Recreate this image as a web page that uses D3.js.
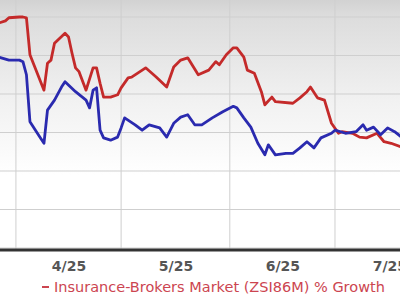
<!DOCTYPE html>
<html>
<head>
<meta charset="utf-8">
<title>Insurance-Brokers Market % Growth</title>
<script src="https://d3js.org/d3.v7.min.js"></script>
<style>
  body { margin: 0; background: #fff; }
  svg { display: block; font-family: "DejaVu Sans", Verdana, sans-serif; }
</style>
</head>
<body>
<div id="chart"></div>
<script>
// industry series (red)
const brokerDates = ["2025-03-27","2025-03-29","2025-03-30","2025-04-02","2025-04-03","2025-04-04","2025-04-05",
  "2025-04-09","2025-04-10","2025-04-11","2025-04-12","2025-04-15","2025-04-16","2025-04-17","2025-04-18","2025-04-19",
  "2025-04-21","2025-04-23","2025-04-24","2025-04-25","2025-04-26","2025-04-28","2025-04-30","2025-05-01","2025-05-03",
  "2025-05-04","2025-05-08","2025-05-11","2025-05-14","2025-05-16","2025-05-18","2025-05-20","2025-05-23","2025-05-26",
  "2025-05-28","2025-05-29","2025-05-31","2025-06-02","2025-06-03","2025-06-05","2025-06-06","2025-06-08","2025-06-10",
  "2025-06-11","2025-06-13","2025-06-14","2025-06-19","2025-06-21","2025-06-23","2025-06-24","2025-06-26","2025-06-28",
  "2025-06-30","2025-07-02","2025-07-03","2025-07-06","2025-07-08","2025-07-10","2025-07-13","2025-07-15","2025-07-17",
  "2025-07-20"];
const brokerGrowth = [9.2,9.5,9.9,10.0,10.0,9.9,5.1,
  0.5,4.0,4.4,6.6,7.9,7.4,5.3,3.4,2.9,
  0.5,3.4,3.4,1.4,-0.4,-0.4,-0.1,0.8,2.1,
  2.2,3.4,2.2,0.9,3.5,4.4,4.7,2.5,3.1,
  4.2,3.8,5.1,6.0,6.0,4.8,3.1,2.7,0.3,
  -1.4,-0.4,-1.0,-1.2,-0.5,0.3,0.9,-0.5,-0.8,
  -3.8,-5.1,-4.9,-5.1,-5.6,-5.7,-5.1,-6.2,-6.4,
  -6.9];

// stock series (blue)
const stockDates = ["2025-03-27","2025-03-30","2025-04-02","2025-04-03","2025-04-04","2025-04-05","2025-04-08",
  "2025-04-09","2025-04-10","2025-04-12","2025-04-14","2025-04-15","2025-04-18","2025-04-21","2025-04-22","2025-04-23",
  "2025-04-24","2025-04-25","2025-04-26","2025-04-28","2025-04-30","2025-05-01","2025-05-02","2025-05-05","2025-05-07",
  "2025-05-09","2025-05-12","2025-05-14","2025-05-16","2025-05-18","2025-05-20","2025-05-22","2025-05-24","2025-05-27",
  "2025-05-30","2025-06-02","2025-06-03","2025-06-05","2025-06-07","2025-06-09","2025-06-11","2025-06-12","2025-06-14",
  "2025-06-17","2025-06-19","2025-06-21","2025-06-23","2025-06-25","2025-06-27","2025-06-30","2025-07-01","2025-07-04",
  "2025-07-07","2025-07-09","2025-07-10","2025-07-12","2025-07-14","2025-07-16","2025-07-18","2025-07-20"];
const stockGrowth = [4.8,4.4,4.4,4.2,2.5,-3.6,-5.7,
  -6.4,-2.1,-0.8,0.9,1.6,0.3,-0.8,-1.8,0.5,
  0.8,-4.7,-5.7,-6.0,-5.6,-4.4,-3.1,-4.0,-4.7,
  -4.0,-4.4,-5.6,-3.8,-3.0,-2.7,-4.0,-4.0,-3.1,
  -2.3,-1.6,-1.8,-3.1,-4.3,-6.4,-7.9,-6.6,-7.9,
  -7.7,-7.7,-7.0,-6.2,-7.0,-5.7,-5.1,-4.7,-5.1,
  -4.9,-4.0,-4.7,-4.3,-5.3,-4.4,-4.9,-5.6];

const monthStarts = ["2025-04-01","2025-05-01","2025-06-01","2025-07-01","2025-08-01"];
const yTicks = [-20,-15,-10,-5,0,5,10];
const legendLabel = "Insurance-Brokers Market (ZSI86M) % Growth";

const W = 400, H = 300;
const axisY = 250;
const parse = d3.timeParse("%Y-%m-%d");

const svg = d3.select("#chart").append("svg")
  .attr("width", W)
  .attr("height", H);

const defs = svg.append("defs");
const grad = defs.append("linearGradient")
  .attr("id", "bg").attr("x1", 0).attr("y1", 0).attr("x2", 0).attr("y2", 1);
grad.append("stop").attr("offset", "0%").attr("stop-color", "#d2d2d2");
grad.append("stop").attr("offset", "6%").attr("stop-color", "#dcdcdc");
grad.append("stop").attr("offset", "40%").attr("stop-color", "#f1f1f1");
grad.append("stop").attr("offset", "70%").attr("stop-color", "#ffffff");

svg.append("rect")
  .attr("width", W).attr("height", axisY)
  .attr("fill", "url(#bg)");

let x = d3.scaleTime()
  .domain([new Date(2025, 2, 27, 11), new Date(2025, 6, 19, 13)])
  .range([0, W]);

let y = d3.scaleLinear()
  .domain([-20, 10])
  .range([248, 17]);

// grid
svg.append("g")
  .selectAll("line")
  .data(yTicks)
  .join("line")
  .attr("x1", 0).attr("x2", W)
  .attr("y1", d => y(d)).attr("y2", d => y(d))
  .attr("stroke", "#cfcfcf")
  .attr("stroke-width", 1);

let months = monthStarts.map(parse);
svg.append("g")
  .selectAll("line")
  .data(months.slice(0, -1))
  .join("line")
  .attr("x1", d => x(d)).attr("x2", d => x(d))
  .attr("y1", 0).attr("y2", axisY)
  .attr("stroke", "#cfcfcf")
  .attr("stroke-width", 1);

// lines
let line = d3.line()
  .x(d => x(d[0]))
  .y(d => y(d[1]));

let stock = stockDates.map((d, i) => [parse(d), stockGrowth[i]]);
let broker = brokerDates.map((d, i) => [parse(d), brokerGrowth[i]]);

svg.append("path")
  .datum(broker)
  .attr("d", line)
  .attr("fill", "none")
  .attr("stroke", "#c42a2a")
  .attr("stroke-width", 2.8)
  .attr("stroke-linejoin", "round");

svg.append("path")
  .datum(stock)
  .attr("d", line)
  .attr("fill", "none")
  .attr("stroke", "#2a2aaf")
  .attr("stroke-width", 2.8)
  .attr("stroke-linejoin", "round");

// x axis: labels centred between month starts
let labelDates = months.slice(0, -1).map((m, i) => new Date((+m + +months[i + 1]) / 2));
let xAxis = d3.axisBottom(x)
  .tickValues(labelDates)
  .tickSize(0)
  .tickPadding(11)
  .tickFormat(d3.timeFormat("%-m/%y"));

let gx = svg.append("g")
  .attr("transform", `translate(0, ${axisY})`)
  .call(xAxis);
gx.select(".domain").remove();
gx.selectAll("text")
  .attr("fill", "#555")
  .attr("font-size", 14)
  .attr("font-weight", "bold")
  .attr("font-family", "DejaVu Sans, sans-serif");

svg.append("line")
  .attr("x1", 0).attr("x2", W)
  .attr("y1", axisY).attr("y2", axisY)
  .attr("stroke", "#333")
  .attr("stroke-width", 3);

// legend
svg.append("line")
  .attr("x1", 42).attr("x2", 49)
  .attr("y1", 287).attr("y2", 287)
  .attr("stroke", "#cc4550")
  .attr("stroke-width", 2);

svg.append("text")
  .attr("x", 54).attr("y", 292)
  .attr("fill", "#cc4550")
  .attr("font-size", 14.5)
  .text(legendLabel);
</script>
</body>
</html>
